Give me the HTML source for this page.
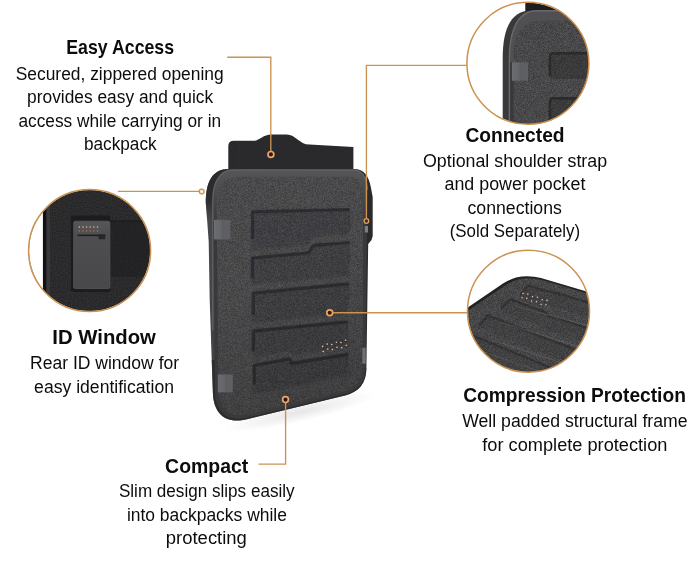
<!DOCTYPE html>
<html><head><meta charset="utf-8"><title>Product features</title>
<style>
html,body{margin:0;padding:0;background:#fff;}
body{width:690px;height:585px;overflow:hidden;font-family:"Liberation Sans",sans-serif;}
svg{display:block}
</style></head>
<body>
<svg width="690" height="585" viewBox="0 0 690 585">
<defs>
<filter id="gFab" x="0" y="0" width="100%" height="100%" color-interpolation-filters="sRGB">
  <feTurbulence type="fractalNoise" baseFrequency="1.73" numOctaves="1" seed="3" result="n"/>
  <feColorMatrix in="n" type="matrix" values="0.25 0 0 0 0.1652  0.25 0 0 0 0.1652  0.25 0 0 0 0.1712  0 0 0 0 1" result="g"/>
  <feComposite in="g" in2="SourceGraphic" operator="in"/>
</filter>
<filter id="gFab2" x="0" y="0" width="100%" height="100%" color-interpolation-filters="sRGB">
  <feTurbulence type="fractalNoise" baseFrequency="1.37" numOctaves="1" seed="8" result="n"/>
  <feColorMatrix in="n" type="matrix" values="0.28 0 0 0 0.1424  0.28 0 0 0 0.1424  0.28 0 0 0 0.1484  0 0 0 0 1" result="g"/>
  <feComposite in="g" in2="SourceGraphic" operator="in"/>
</filter>
<filter id="gFab3" x="0" y="0" width="100%" height="100%" color-interpolation-filters="sRGB">
  <feTurbulence type="fractalNoise" baseFrequency="1.37" numOctaves="1" seed="5" result="n"/>
  <feColorMatrix in="n" type="matrix" values="0.28 0 0 0 0.1345  0.28 0 0 0 0.1345  0.28 0 0 0 0.1405  0 0 0 0 1" result="g"/>
  <feComposite in="g" in2="SourceGraphic" operator="in"/>
</filter>
<filter id="gDark" x="0" y="0" width="100%" height="100%" color-interpolation-filters="sRGB">
  <feTurbulence type="fractalNoise" baseFrequency="0.8" numOctaves="1" seed="11" result="n"/>
  <feColorMatrix in="n" type="matrix" values="0.14 0 0 0 0.0986  0.14 0 0 0 0.0986  0.14 0 0 0 0.1046  0 0 0 0 1" result="g"/>
  <feComposite in="g" in2="SourceGraphic" operator="in"/>
</filter>
<linearGradient id="shg" x1="0" y1="0" x2="0" y2="1">
  <stop offset="0" stop-color="#29292b" stop-opacity="1"/>
  <stop offset="0.12" stop-color="#303032" stop-opacity="0.92"/>
  <stop offset="0.55" stop-color="#343436" stop-opacity="0.6"/>
  <stop offset="0.85" stop-color="#38383a" stop-opacity="0.18"/>
  <stop offset="1" stop-color="#3c3c3e" stop-opacity="0"/>
</linearGradient>
<linearGradient id="shl" x1="0" y1="0" x2="1" y2="0">
  <stop offset="0" stop-color="#262628" stop-opacity="0.85"/>
  <stop offset="1" stop-color="#2c2c2e" stop-opacity="0"/>
</linearGradient>
<linearGradient id="tabg" x1="0" y1="0" x2="1" y2="0">
  <stop offset="0" stop-color="#6c6d70"/><stop offset="0.45" stop-color="#646568"/><stop offset="0.5" stop-color="#5d5e61"/><stop offset="1" stop-color="#5f6063"/>
</linearGradient>
<filter id="blur1" x="-5%" y="-5%" width="110%" height="110%"><feGaussianBlur stdDeviation="1.2"/></filter>
<filter id="blur2" x="-5%" y="-5%" width="110%" height="110%"><feGaussianBlur stdDeviation="0.65"/></filter>
<linearGradient id="vdark" x1="0" y1="0" x2="0.25" y2="1">
  <stop offset="0" stop-color="#000" stop-opacity="0"/><stop offset="0.5" stop-color="#000" stop-opacity="0.02"/><stop offset="1" stop-color="#000" stop-opacity="0.14"/>
</linearGradient>
<linearGradient id="wallg" x1="0" y1="0" x2="0" y2="1">
  <stop offset="0" stop-color="#48484a" stop-opacity="0"/><stop offset="0.15" stop-color="#48484a" stop-opacity="0.9"/><stop offset="0.75" stop-color="#454547" stop-opacity="0.85"/><stop offset="1" stop-color="#404042" stop-opacity="0"/>
</linearGradient>
<linearGradient id="outerg" gradientUnits="userSpaceOnUse" x1="206" y1="0" x2="373" y2="0">
  <stop offset="0" stop-color="#4a4a4c"/><stop offset="0.035" stop-color="#454547"/><stop offset="0.07" stop-color="#3a3a3c"/><stop offset="0.5" stop-color="#363638"/><stop offset="0.9" stop-color="#2c2c2e"/><stop offset="1" stop-color="#29292b"/>
</linearGradient>
<radialGradient id="cornerd" cx="0.5" cy="0.5" r="0.5">
  <stop offset="0" stop-color="#2a2a2c" stop-opacity="1"/><stop offset="0.6" stop-color="#2c2c2e" stop-opacity="0.95"/><stop offset="1" stop-color="#303032" stop-opacity="0"/>
</radialGradient>
<clipPath id="outerclip"><path d="M205.8,203 C205.8,182 212,169 229,169 L300,169 L300,260 L208.9,260 L208.7,242 L207.2,221 Z"/></clipPath>
<linearGradient id="bevg" gradientUnits="userSpaceOnUse" x1="0" y1="170" x2="0" y2="221">
  <stop offset="0" stop-color="#555557"/><stop offset="0.2" stop-color="#515153"/><stop offset="0.55" stop-color="#47474a"/><stop offset="1" stop-color="#3b3b3d"/>
</linearGradient>
<clipPath id="bodyclip"><path d="M205.8,203 C205.8,182 212,169 229,169 L354,169 C364,169 369,176 371,188 L372.7,197 L372.7,236 L371.5,240 L368.2,244 L366.4,368 C366.4,384 358,392 346,395.2 L247,419.2 C226,424.5 213.6,414 212.9,393 L211.2,345 L209.7,300 L208.7,242 L207.2,221 Z"/></clipPath>
<linearGradient id="cardg" x1="0" y1="0" x2="0" y2="1">
  <stop offset="0" stop-color="#565658"/><stop offset="0.22" stop-color="#4e4e50"/><stop offset="1" stop-color="#48484a"/>
</linearGradient>
<radialGradient id="shadow" cx="0.5" cy="0.5" r="0.5">
  <stop offset="0" stop-color="#000" stop-opacity="0.10"/><stop offset="1" stop-color="#000" stop-opacity="0"/>
</radialGradient>
<clipPath id="c1"><circle cx="89.6" cy="250.6" r="60.6"/></clipPath>
<clipPath id="c2"><circle cx="527.9" cy="63.3" r="60.6"/></clipPath>
<clipPath id="c3"><circle cx="528.5" cy="311.2" r="60.6"/></clipPath>
<clipPath id="fab"><path d="M216.6,205 C216.6,186 224,176.8 240,176.8 L350,176.8 C359,176.8 363.2,182 363.2,192 L362.6,366 C362.6,380 356,388.5 344,391.5 L249,414.2 C231,418.5 219.4,410 218.6,391 Z"/></clipPath>
</defs>
<ellipse cx="300" cy="412" rx="78" ry="10" fill="url(#shadow)" transform="rotate(-13 300 412)"/>
<path d="M228.3,170 L228.3,146 Q228.3,140.8 234,140.8 L253,140.8 C260,140.8 262.5,134.4 271.5,134.4 L286.5,134.4 C296,134.4 299,144.3 309.5,144.6 L353.4,146.9 L353.4,171 Z" fill="#2a2a2c"/>
<path d="M239,170 L239,147 Q239,143.5 243,143.5" fill="none" stroke="#2e2e30" stroke-width="1.2"/>
<path d="M205.8,203 C205.8,182 212,169 229,169 L354,169 C364,169 369,176 371,188 L372.7,197 L372.7,236 L371.5,240 L368.2,244 L366.4,368 C366.4,384 358,392 346,395.2 L247,419.2 C226,424.5 213.6,414 212.9,393 L211.2,345 L209.7,300 L208.7,242 L207.2,221 Z" fill="url(#outerg)"/>
<circle cx="203" cy="172" r="48" fill="url(#cornerd)" clip-path="url(#outerclip)"/>
<g clip-path="url(#bodyclip)" filter="url(#blur2)"><path d="M211.8,360 L212.9,393 C213.6,414 226,424.5 247,419.2 L346,395.2 C358,392 366.4,384 366.4,368" fill="none" stroke="#28282a" stroke-width="8" opacity="0.75"/></g>
<path d="M212.8,221 L212.8,201 C212.8,183 219,170 233,170 L353,170 C362,170 366.8,177 367.4,190 L367,221 Z" fill="url(#bevg)"/>
<path d="M212.8,330 L212.8,201 C212.8,183 219,170 233,170 L353,170 C362,170 366.8,177 367.4,190" fill="none" stroke="#626264" stroke-width="1.3"/>
<path d="M213.4,221 L367,221 L365.6,368 C365.6,383 357.5,391 345.5,394 L247,417.6 C228,422 216,412.5 215,393 Z" fill="#39393b"/>
<path d="M216.6,205 C216.6,186 224,176.8 240,176.8 L350,176.8 C359,176.8 363.2,182 363.2,192 L362.6,366 C362.6,380 356,388.5 344,391.5 L249,414.2 C231,418.5 219.4,410 218.6,391 Z" fill="#434345" filter="url(#gFab)"/>
<g clip-path="url(#fab)">
<g filter="url(#blur1)">
<linearGradient id="rg0" gradientUnits="userSpaceOnUse" x1="0" y1="207.9" x2="8" y2="249.9"><stop offset="0" stop-color="#1c1c1e" stop-opacity="0.68"/><stop offset="0.45" stop-color="#1e1e20" stop-opacity="0.56"/><stop offset="0.8" stop-color="#202022" stop-opacity="0.38"/><stop offset="1" stop-color="#202022" stop-opacity="0.14"/></linearGradient>
<path d="M251.3,210.3 L349.6,207.9 L349.6,234.4 L316.5,237.0 L312.6,238.5 L309.0,244.1 L305.2,245.2 L251.3,249.9 Z" fill="url(#rg0)"/>
<linearGradient id="rg1" gradientUnits="userSpaceOnUse" x1="0" y1="240.9" x2="8" y2="285.1"><stop offset="0" stop-color="#1c1c1e" stop-opacity="0.68"/><stop offset="0.45" stop-color="#1e1e20" stop-opacity="0.56"/><stop offset="0.8" stop-color="#202022" stop-opacity="0.38"/><stop offset="1" stop-color="#202022" stop-opacity="0.14"/></linearGradient>
<path d="M251.3,256.4 L305.2,251.7 L309.0,250.6 L312.6,245.0 L316.5,243.5 L349.6,240.9 L348.7,275.7 L252.2,285.1 Z" fill="url(#rg1)"/>
<linearGradient id="rg2" gradientUnits="userSpaceOnUse" x1="0" y1="282.2" x2="8" y2="323.1"><stop offset="0" stop-color="#1c1c1e" stop-opacity="0.68"/><stop offset="0.45" stop-color="#1e1e20" stop-opacity="0.56"/><stop offset="0.8" stop-color="#202022" stop-opacity="0.38"/><stop offset="1" stop-color="#202022" stop-opacity="0.14"/></linearGradient>
<path d="M252.2,291.6 L348.7,282.2 L347.6,313.7 L252.2,323.1 Z" fill="url(#rg2)"/>
<linearGradient id="rg3" gradientUnits="userSpaceOnUse" x1="0" y1="320.2" x2="8" y2="357.5"><stop offset="0" stop-color="#1c1c1e" stop-opacity="0.68"/><stop offset="0.45" stop-color="#1e1e20" stop-opacity="0.56"/><stop offset="0.8" stop-color="#202022" stop-opacity="0.38"/><stop offset="1" stop-color="#202022" stop-opacity="0.14"/></linearGradient>
<path d="M252.2,329.6 L347.6,320.2 L347.8,346.3 L295.5,354.7 L291.2,354.7 L289.8,350.7 L253.0,357.5 Z" fill="url(#rg3)"/>
<linearGradient id="rg4" gradientUnits="userSpaceOnUse" x1="0" y1="352.8" x2="8" y2="395.0"><stop offset="0" stop-color="#1c1c1e" stop-opacity="0.68"/><stop offset="0.45" stop-color="#1e1e20" stop-opacity="0.56"/><stop offset="0.8" stop-color="#202022" stop-opacity="0.38"/><stop offset="1" stop-color="#202022" stop-opacity="0.14"/></linearGradient>
<path d="M253.0,364.0 L289.8,357.2 L291.2,361.2 L295.5,361.2 L347.8,352.8 L347.8,375.0 L253.0,395.0 Z" fill="url(#rg4)"/>
</g>
<g filter="url(#blur2)" fill="none" stroke="#222224" stroke-linejoin="round">
<path d="M252.5,238.9 L252.5,211.9 L349.6,209.5" stroke-width="3.2" opacity="0.6"/>
<path d="M349.0,208.9 L349.0,226.1" stroke-width="2" opacity="0.18"/>
<path d="M252.5,278.2 L252.5,258.0 L305.2,253.3 L309.0,252.2 L312.6,246.6 L316.5,245.1 L349.6,242.5" stroke-width="3.2" opacity="0.6"/>
<path d="M349.0,241.9 L349.0,263.6" stroke-width="2" opacity="0.18"/>
<path d="M253.4,315.2 L253.4,293.2 L348.7,283.8" stroke-width="3.2" opacity="0.6"/>
<path d="M348.1,283.2 L348.1,303.1" stroke-width="2" opacity="0.18"/>
<path d="M253.4,350.9 L253.4,331.2 L347.6,321.8" stroke-width="3.2" opacity="0.6"/>
<path d="M347.0,321.2 L347.0,338.1" stroke-width="2" opacity="0.18"/>
<path d="M254.2,384.5 L254.2,365.6 L289.8,358.8 L291.2,362.8 L295.5,362.8 L347.8,354.4" stroke-width="3.2" opacity="0.6"/>
<path d="M347.2,353.8 L347.2,366.1" stroke-width="2" opacity="0.18"/>
</g>
</g>
<path d="M216.6,205 C216.6,186 224,176.8 240,176.8 L350,176.8 C359,176.8 363.2,182 363.2,192 L362.6,366 C362.6,380 356,388.5 344,391.5 L249,414.2 C231,418.5 219.4,410 218.6,391 Z" fill="url(#vdark)"/>
<rect x="213.9" y="219.8" width="16.4" height="19.6" fill="url(#tabg)"/>
<rect x="217.8" y="374.5" width="15" height="17.8" fill="url(#tabg)"/>
<rect x="362.3" y="347.7" width="3.4" height="16" fill="#707072"/>
<rect x="364.8" y="226" width="3.2" height="6.5" fill="#7c8086"/>
<circle cx="322.6" cy="346.4" r="0.8" fill="#e3c0a6"/>
<circle cx="323.2" cy="351.4" r="0.8" fill="#e3c0a6"/>
<circle cx="327.2" cy="344.1" r="0.8" fill="#e3c0a6"/>
<circle cx="327.8" cy="349.1" r="0.8" fill="#e3c0a6"/>
<circle cx="331.8" cy="344.5" r="0.8" fill="#e3c0a6"/>
<circle cx="332.4" cy="349.5" r="0.8" fill="#e3c0a6"/>
<circle cx="336.4" cy="342.2" r="0.8" fill="#e3c0a6"/>
<circle cx="337.0" cy="347.2" r="0.8" fill="#e3c0a6"/>
<circle cx="341.0" cy="342.6" r="0.8" fill="#e3c0a6"/>
<circle cx="341.6" cy="347.6" r="0.8" fill="#e3c0a6"/>
<circle cx="345.6" cy="340.3" r="0.8" fill="#e3c0a6"/>
<circle cx="346.2" cy="345.3" r="0.8" fill="#e3c0a6"/>
<g clip-path="url(#c1)">
<rect x="20" y="185" width="140" height="140" fill="#2c2c2e" filter="url(#gDark)"/>
<rect x="110" y="220.5" width="50" height="56.5" fill="#1c1c1e" opacity="0.5"/>
<rect x="110" y="220.5" width="50" height="1.6" fill="#151517" opacity="0.5"/>
<rect x="70.9" y="215.6" width="39.4" height="76.3" rx="1.5" fill="#1c1c1e"/>
<rect x="73.7" y="221.2" width="36.2" height="67.4" rx="1.6" fill="url(#cardg)" stroke="#58585a" stroke-width="0.8"/>
<rect x="77.7" y="234.6" width="27.6" height="1.5" fill="#1c1c1e"/>
<rect x="98.5" y="234.6" width="6.8" height="4.6" rx="1" fill="#262628"/>
<circle cx="79.3" cy="227" r="0.8" fill="#dcb8a6"/>
<circle cx="79.3" cy="231" r="0.8" fill="#c8643f"/>
<circle cx="83.0" cy="227" r="0.8" fill="#dcb8a6"/>
<circle cx="83.0" cy="231" r="0.8" fill="#c8643f"/>
<circle cx="86.6" cy="227" r="0.8" fill="#dcb8a6"/>
<circle cx="86.6" cy="231" r="0.8" fill="#c8643f"/>
<circle cx="90.2" cy="227" r="0.8" fill="#dcb8a6"/>
<circle cx="90.2" cy="231" r="0.8" fill="#c8643f"/>
<circle cx="93.9" cy="227" r="0.8" fill="#dcb8a6"/>
<circle cx="93.9" cy="231" r="0.8" fill="#c8643f"/>
<circle cx="97.5" cy="227" r="0.8" fill="#dcb8a6"/>
<circle cx="97.5" cy="231" r="0.8" fill="#c8643f"/>
<rect x="46.2" y="190" width="3.8" height="130" fill="#39393b"/>
<rect x="42.8" y="190" width="3.4" height="130" fill="#121214"/>
<rect x="20" y="185" width="22.9" height="140" fill="#fff"/>
</g>
<circle cx="89.6" cy="250.6" r="61" fill="none" stroke="#cb9252" stroke-width="1.5"/>
<g clip-path="url(#c2)">
<rect x="460" y="0" width="140" height="135" fill="#fff"/>
<rect x="525.3" y="0" width="75" height="14" fill="#1d1d1f"/>
<path d="M502.7,135 L502.7,58 C502.7,28 511.5,10.6 531,10.6 L600,10.6 L600,135 Z" fill="#39393b"/>
<path d="M509.4,135 L509.4,58 C509.4,30 518,10.8 537,10.8 L600,10.8 L600,135 Z" fill="#505052"/>
<path d="M509.4,135 L509.4,58 C509.4,30 518,10.8 537,10.8 L600,10.8" fill="none" stroke="#6a6a6c" stroke-width="1.4"/>
<path d="M510.2,135 L510.2,62 L600,62 L600,135 Z" fill="#38383a"/>
<path d="M513.5,135 L513.5,56 C513.5,33 523,20.6 543,20.6 L600,20.6 L600,135 Z" fill="#434345" filter="url(#gFab2)"/>
<g filter="url(#blur2)">
<path d="M548.8,57 Q548.8,52 553.5,52 L600,52 L600,79 L553.5,79 Q548.8,79 548.8,74.5 Z" fill="#1e1e20" opacity="0.32"/>
<path d="M548.8,102 Q548.8,97 553.5,97 L600,97 L600,135 L548.8,135 Z" fill="#1e1e20" opacity="0.32"/>
<path d="M550,76 L550,56.5 Q550,53.2 553.5,53.2 L600,53.2" fill="none" stroke="#1a1a1c" stroke-width="2.4" opacity="0.5"/>
<path d="M550,135 L550,101.5 Q550,98.2 553.5,98.2 L600,98.2" fill="none" stroke="#1a1a1c" stroke-width="2.4" opacity="0.5"/>
</g>
<rect x="511.9" y="62.3" width="16.1" height="18.4" fill="url(#tabg)"/>
</g>
<circle cx="527.9" cy="63.3" r="61" fill="none" stroke="#cb9252" stroke-width="1.5"/>
<g clip-path="url(#c3)">
<rect x="460" y="245" width="140" height="135" fill="#fff"/>
<path d="M460,312.7 L503,283.6 Q509,279.5 516,277.5 Q528,274.6 541,278 L600,295.5 L600,380 L460,380 Z" fill="#232325"/>
<path d="M460,312.7 L503,283.6 Q509,279.5 516,277.5 Q528,274.6 541,278 L600,295.5 L600,380 L460,380 Z" fill="#414143" filter="url(#gFab3)" transform="translate(1.6,2.2)"/>
<g filter="url(#blur2)">
<path d="M520.0,294.5 L527.0,284.5 L560.0,293.0 L600.0,305.0 L592.0,318.0 L552.0,306.0 L519.0,297.5 Z" fill="#1c1c1e" opacity="0.17"/>
<path d="M520.8,295.3 L527.5,285.7 L560.5,294.2 L600.5,306.2" fill="none" stroke="#19191b" stroke-width="2" opacity="0.33" stroke-linejoin="round"/>
<path d="M500.5,307.0 L510.0,298.0 L546.0,311.5 L548.0,314.5 L600.0,331.0 L592.0,344.0 L540.0,327.5 L538.0,324.5 L502.0,311.0 Z" fill="#1c1c1e" opacity="0.17"/>
<path d="M501.3,307.8 L510.5,299.2 L546.5,312.7 L548.5,315.7 L600.5,332.2" fill="none" stroke="#19191b" stroke-width="2" opacity="0.33" stroke-linejoin="round"/>
<path d="M478.5,324.5 L487.6,314.3 L540.0,335.0 L600.0,358.0 L592.0,371.0 L532.0,348.0 L479.6,327.3 Z" fill="#1c1c1e" opacity="0.17"/>
<path d="M479.3,325.3 L488.1,315.5 L540.5,336.2 L600.5,359.2" fill="none" stroke="#19191b" stroke-width="2" opacity="0.33" stroke-linejoin="round"/>
<path d="M468.0,343.0 L474.0,335.0 L530.0,358.0 L600.0,388.0 L592.0,401.0 L522.0,371.0 L466.0,348.0 Z" fill="#1c1c1e" opacity="0.17"/>
<path d="M468.8,343.8 L474.5,336.2 L530.5,359.2 L600.5,389.2" fill="none" stroke="#19191b" stroke-width="2" opacity="0.33" stroke-linejoin="round"/>
<path d="M500,322 L596,352" stroke="#77777a" stroke-width="1.2" opacity="0.32" fill="none"/>
<path d="M492,340 L590,372" stroke="#77777a" stroke-width="1.2" opacity="0.32" fill="none"/>
<path d="M515,306 L596,328" stroke="#77777a" stroke-width="1.2" opacity="0.32" fill="none"/>
<path d="M484,352 L570,382" stroke="#77777a" stroke-width="1.2" opacity="0.32" fill="none"/>
</g>
<circle cx="523.0" cy="293.4" r="0.8" fill="#e2b79a"/>
<circle cx="522.0" cy="297.8" r="0.8" fill="#e2b79a"/>
<circle cx="527.8" cy="294.0" r="0.8" fill="#e2b79a"/>
<circle cx="526.8" cy="298.4" r="0.8" fill="#e2b79a"/>
<circle cx="532.6" cy="296.6" r="0.8" fill="#e2b79a"/>
<circle cx="531.6" cy="301.0" r="0.8" fill="#e2b79a"/>
<circle cx="537.4" cy="297.2" r="0.8" fill="#e2b79a"/>
<circle cx="536.4" cy="301.6" r="0.8" fill="#e2b79a"/>
<circle cx="542.2" cy="299.8" r="0.8" fill="#e2b79a"/>
<circle cx="541.2" cy="304.2" r="0.8" fill="#e2b79a"/>
<circle cx="547.0" cy="300.4" r="0.8" fill="#e2b79a"/>
<circle cx="546.0" cy="304.8" r="0.8" fill="#e2b79a"/>
</g>
<circle cx="528.5" cy="311.2" r="61" fill="none" stroke="#cb9252" stroke-width="1.5"/>
<path d="M227.2,57.2 L270.8,57.2 L270.8,151" fill="none" stroke="#cb9252" stroke-width="1.35"/>
<circle cx="270.9" cy="154.4" r="2.9" fill="#3a1510" stroke="#e8a868" stroke-width="1.7"/>
<path d="M117.9,191.4 L199,191.4" fill="none" stroke="#cb9252" stroke-width="1.35"/>
<circle cx="201.7" cy="191.6" r="2.4" fill="#fdf0d2" stroke="#cb9252" stroke-width="1.3"/>
<path d="M466.8,65.4 L366.4,65.4 L366.4,218" fill="none" stroke="#cb9252" stroke-width="1.35"/>
<circle cx="366.4" cy="221" r="2.3" fill="#3a3230" stroke="#e0a060" stroke-width="1.3"/>
<path d="M333,312.7 L467.5,312.7" fill="none" stroke="#cb9252" stroke-width="1.35"/>
<circle cx="329.7" cy="312.7" r="2.9" fill="#3a1510" stroke="#e8a868" stroke-width="1.7"/>
<path d="M258.5,464.1 L285.6,464.1 L285.6,403" fill="none" stroke="#cb9252" stroke-width="1.35"/>
<circle cx="285.5" cy="399.6" r="2.9" fill="#3a1510" stroke="#e8a868" stroke-width="1.7"/>
<g font-family="'Liberation Sans', sans-serif" fill="#0a0a0a" opacity="0.99">
<text x="66.3" y="54.3" font-size="19.7" textLength="107.8" lengthAdjust="spacingAndGlyphs" font-weight="700">Easy Access</text>
<text x="15.7" y="79.5" font-size="17.5" textLength="208.0" lengthAdjust="spacingAndGlyphs">Secured, zippered opening</text>
<text x="27.1" y="103.1" font-size="17.5" textLength="186.0" lengthAdjust="spacingAndGlyphs">provides easy and quick</text>
<text x="18.4" y="126.5" font-size="17.5" textLength="202.7" lengthAdjust="spacingAndGlyphs">access while carrying or in</text>
<text x="83.9" y="149.7" font-size="17.5" textLength="72.7" lengthAdjust="spacingAndGlyphs">backpack</text>
<text x="465.4" y="142.1" font-size="19.7" textLength="99.2" lengthAdjust="spacingAndGlyphs" font-weight="700">Connected</text>
<text x="423.0" y="167.0" font-size="17.5" textLength="184.1" lengthAdjust="spacingAndGlyphs">Optional shoulder strap</text>
<text x="444.5" y="190.2" font-size="17.5" textLength="140.9" lengthAdjust="spacingAndGlyphs">and power pocket</text>
<text x="467.5" y="214.2" font-size="17.5" textLength="94.3" lengthAdjust="spacingAndGlyphs">connections</text>
<text x="449.7" y="236.8" font-size="17.5" textLength="130.4" lengthAdjust="spacingAndGlyphs">(Sold Separately)</text>
<text x="52.3" y="344.3" font-size="19.7" textLength="103.6" lengthAdjust="spacingAndGlyphs" font-weight="700">ID Window</text>
<text x="30.0" y="368.9" font-size="17.5" textLength="149.1" lengthAdjust="spacingAndGlyphs">Rear ID window for</text>
<text x="34.1" y="392.7" font-size="17.5" textLength="139.9" lengthAdjust="spacingAndGlyphs">easy identification</text>
<text x="165.1" y="472.6" font-size="19.7" textLength="83.2" lengthAdjust="spacingAndGlyphs" font-weight="700">Compact</text>
<text x="118.9" y="497.0" font-size="17.5" textLength="175.7" lengthAdjust="spacingAndGlyphs">Slim design slips easily</text>
<text x="126.9" y="520.8" font-size="17.5" textLength="160.0" lengthAdjust="spacingAndGlyphs">into backpacks while</text>
<text x="165.8" y="543.5" font-size="17.5" textLength="81.1" lengthAdjust="spacingAndGlyphs">protecting</text>
<text x="463.2" y="402.3" font-size="19.7" textLength="222.7" lengthAdjust="spacingAndGlyphs" font-weight="700">Compression Protection</text>
<text x="462.2" y="427.2" font-size="17.5" textLength="225.4" lengthAdjust="spacingAndGlyphs">Well padded structural frame</text>
<text x="482.3" y="450.8" font-size="17.5" textLength="185.1" lengthAdjust="spacingAndGlyphs">for complete protection</text>
</g>
</svg>
</body></html>
